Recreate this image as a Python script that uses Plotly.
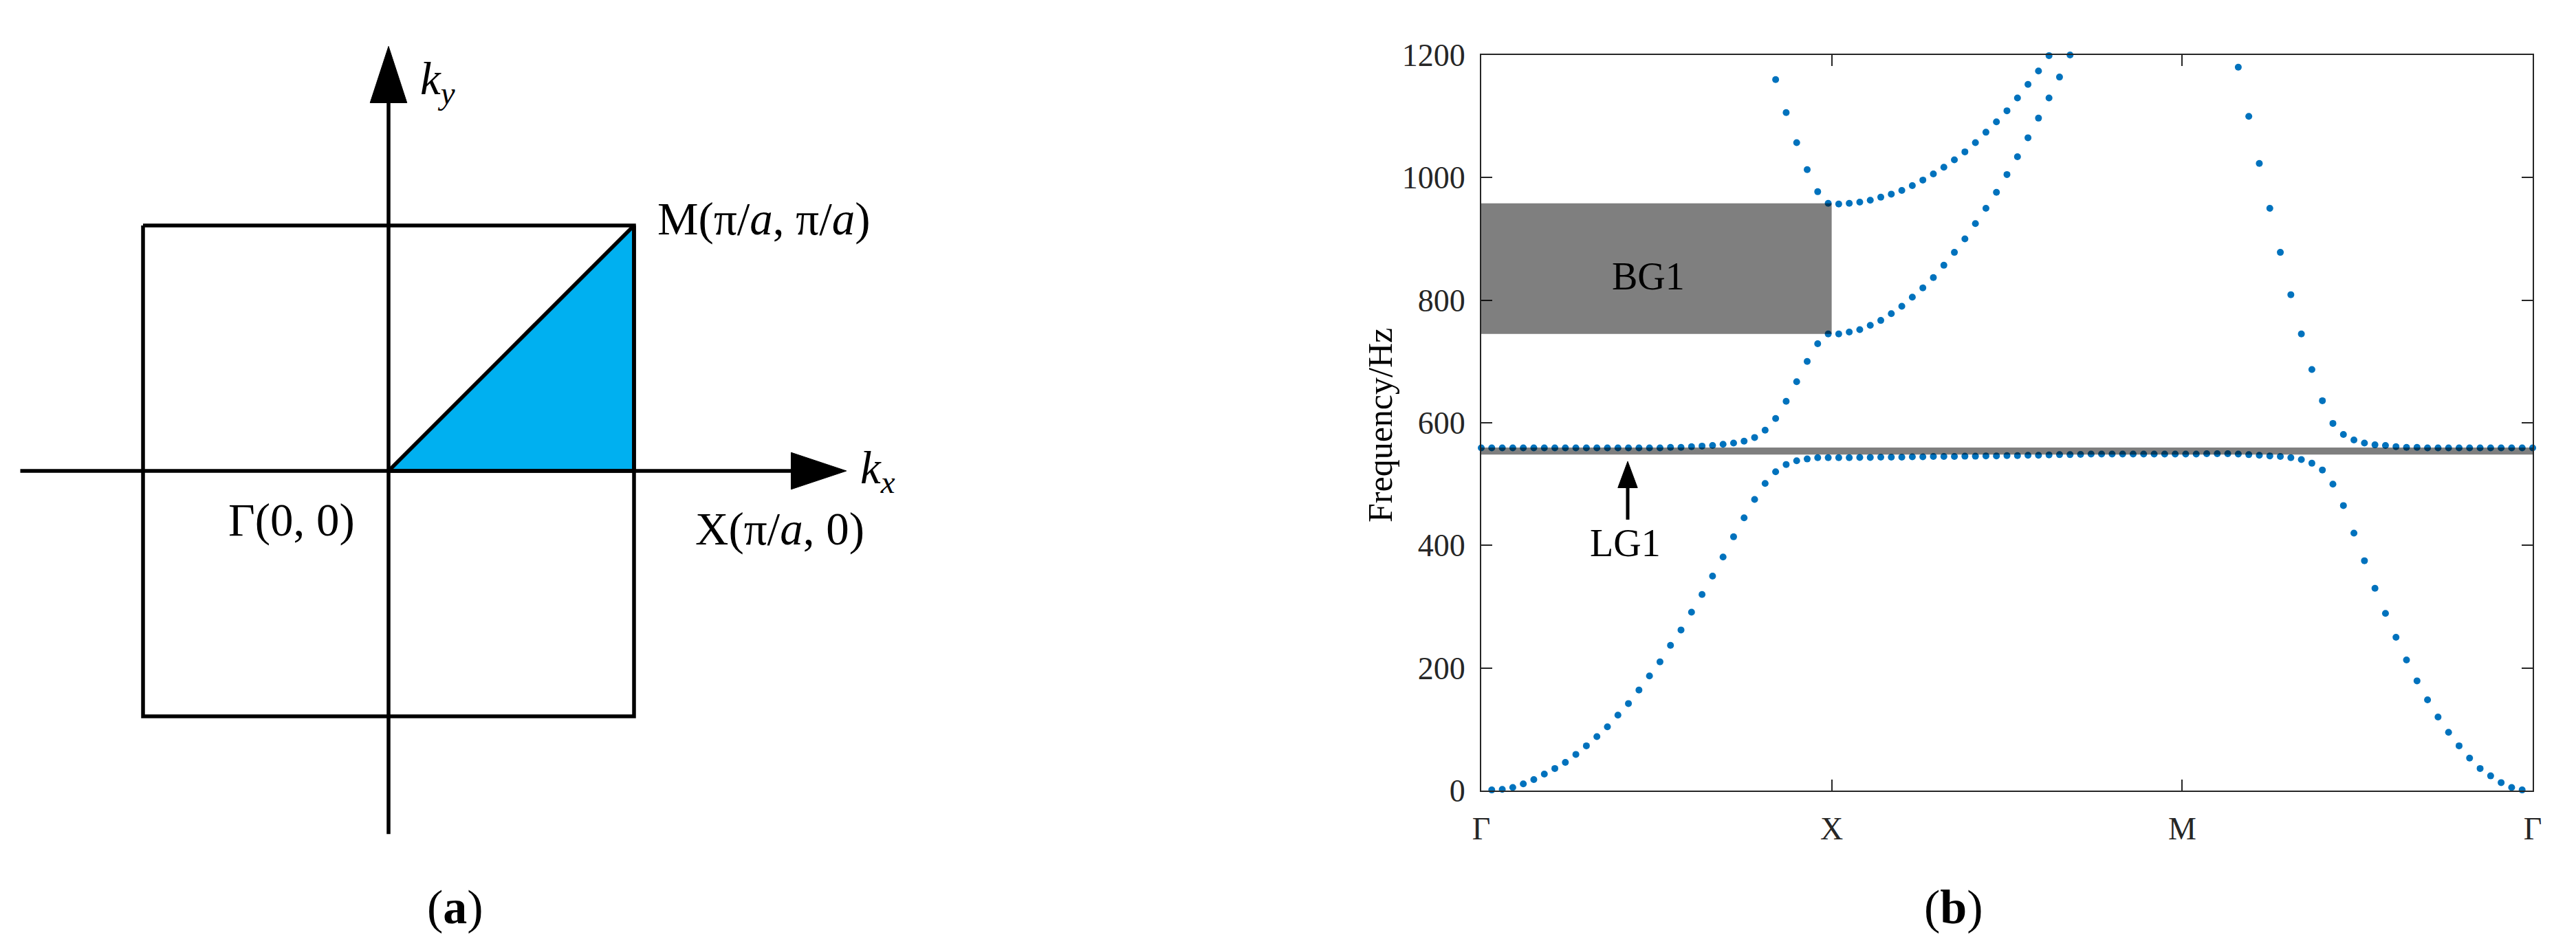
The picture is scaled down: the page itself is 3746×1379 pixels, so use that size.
import plotly.graph_objects as go

# ---------- panel (b): band structure ----------
band1_i = list(range(1, 100))
band1_f = [1, 2, 5, 11, 18, 27, 36, 46, 59, 73, 88, 104, 123, 142, 164, 187, 210, 237, 262, 291,
           320, 350, 381, 414, 445, 475, 501, 520, 532, 538, 541, 543, 543,
           543, 543, 543.5, 543.5, 544, 544, 544, 544.5, 544.5, 545, 545, 545, 545.5, 545.5, 546, 546,
           546.5, 546.5, 547, 547, 547.5, 548, 548, 548.5, 549, 549, 549, 549, 549, 549, 549, 549, 549, 549, 549,
           549.5, 549.5, 549.5,
           549, 548, 547, 546, 545, 543, 540, 534, 523, 500, 465, 420, 375, 330, 289, 250, 213, 179,
           148, 120, 95, 73, 53, 36, 24, 13, 5, 1]
band2_i = list(range(0, 57))
band2_f = [559, 559, 559, 559, 559, 559, 559, 559, 559, 559, 559, 559, 559, 559, 559, 559, 559, 559, 560, 560,
           561, 562, 563, 565, 567, 570, 576, 588, 607, 635, 667, 700, 729, 745,
           745, 748, 752, 759, 767, 778, 790, 805, 820, 837, 857, 878, 900, 925, 950, 976,
           1005, 1034, 1065, 1097, 1130, 1164, 1200]
band3_i = list(range(28, 55))
band3_f = [1160, 1106, 1057, 1013, 977, 958, 957, 958, 960, 963, 968, 973, 979, 987, 996, 1006, 1017, 1029,
           1042, 1057, 1074, 1091, 1109, 1130, 1152, 1174, 1199]
band4_i = list(range(72, 101))
band4_f = [1180, 1100, 1023, 950, 878, 809, 745, 687, 636, 599, 581, 572, 567, 564, 563, 561, 560, 560,
           559, 559, 559, 559, 559, 559, 559, 559, 559, 559, 559]
tick_i = [0, 33.33, 66.67, 100]
tick_labels = ["Γ", "X", "M", "Γ"]
y_ticks = [0, 200, 400, 600, 800, 1000, 1200]
bg1 = (745, 958)
lg1 = (548, 559.5)
BLUE = "#0072BD"
SHADE = "rgba(0,0,0,0.5)"
INK = "#262626"
SERIF = "Liberation Serif"

# ---------- panel (a): Brillouin zone, in units of pi/a ----------
square_x = [-1, 1, 1, -1, -1]
square_y = [1, 1, -1, -1, 1]
wedge_x = [0, 1, 1, 0]
wedge_y = [0, 1, 0, 0]
kx_x = [-1.5, 1.64]
kx_y = [0, 0]
ky_x = [0, 0]
ky_y = [-1.48, 1.5]
kx_head_x = [1.64, 1.865, 1.64, 1.64]
kx_head_y = [0.075, 0, -0.075, 0.075]
ky_head_x = [-0.075, 0, 0.075, -0.075]
ky_head_y = [1.5, 1.73, 1.5, 1.5]

W, H = 3746, 1379
LW = 5.5
fig = go.Figure()

# panel (a) traces
def a_trace(x, y, **kw):
    fig.add_trace(go.Scatter(x=x, y=y, xaxis="x2", yaxis="y2", showlegend=False, hoverinfo="skip",
                             cliponaxis=False, **kw))

a_trace(wedge_x, wedge_y, mode="lines", fill="toself", fillcolor="#00B0F0", line=dict(color="black", width=LW))
a_trace(square_x, square_y, mode="lines", line=dict(color="black", width=LW))
a_trace(kx_x, kx_y, mode="lines", line=dict(color="black", width=LW))
a_trace(ky_x, ky_y, mode="lines", line=dict(color="black", width=LW))
a_trace(kx_head_x, kx_head_y, mode="lines", fill="toself", fillcolor="black", line=dict(color="black", width=1))
a_trace(ky_head_x, ky_head_y, mode="lines", fill="toself", fillcolor="black", line=dict(color="black", width=1))

# panel (b) traces
for xs, ys in [(band1_i, band1_f), (band2_i, band2_f), (band3_i, band3_f), (band4_i, band4_f)]:
    fig.add_trace(go.Scatter(x=xs, y=ys, mode="markers", showlegend=False, cliponaxis=False,
                             marker=dict(color=BLUE, size=10, line=dict(width=0))))
# LG1 arrow
fig.add_trace(go.Scatter(x=[13.93, 13.93], y=[442, 500], mode="lines", showlegend=False,
                         line=dict(color="black", width=5)))
fig.add_trace(go.Scatter(x=[13.0, 13.93, 14.86, 13.0], y=[494, 537, 494, 494], mode="lines", fill="toself",
                         fillcolor="black", line=dict(color="black", width=1), showlegend=False))

shapes = [
    dict(type="rect", xref="x", yref="y", x0=tick_i[0], x1=tick_i[1], y0=bg1[0], y1=bg1[1],
         fillcolor=SHADE, line=dict(width=0), layer="above"),
    dict(type="rect", xref="x", yref="y", x0=tick_i[0], x1=tick_i[3], y0=lg1[0], y1=lg1[1],
         fillcolor=SHADE, line=dict(width=0), layer="above"),
]

def txt(x, y, s, size, xref="x2", yref="y2", **kw):
    return dict(x=x, y=y, xref=xref, yref=yref, text=s, showarrow=False,
                font=dict(family=SERIF, size=size, color="black"),
                xanchor="center", yanchor="middle", **kw)

annotations = [
    txt(1.53, 1.028, "M(π/<i>a</i>, π/<i>a</i>)", 67),
    txt(1.594, -0.238, "X(π/<i>a</i>, 0)", 67),
    txt(-0.395, -0.2, "Γ(0, 0)", 67),
    txt(1.994, 0, "<i>k<sub>x</sub></i>", 67),
    txt(0.2, 1.585, "<i>k<sub>y</sub></i>", 67),
    txt(662/W, 1-1319/H, "(<b>a</b>)", 70, xref="paper", yref="paper"),
    txt(2841/W, 1-1319/H, "(<b>b</b>)", 70, xref="paper", yref="paper"),
    txt(15.9, 839, "BG1", 56, xref="x", yref="y"),
    txt(13.67, 404, "LG1", 56, xref="x", yref="y"),
    txt(2007/W, 1-619/H, "Frequency/Hz", 50, xref="paper", yref="paper", textangle=-90),
]

# panel (a) axis ranges map pixels to pi/a units around the zone centre
cx, cy, half = 565, 685, 357
fig.update_layout(
    width=W, height=H, margin=dict(l=0, r=0, t=0, b=0, pad=0, autoexpand=False),
    paper_bgcolor="white", plot_bgcolor="white",
    shapes=shapes, annotations=annotations, showlegend=False,
    xaxis=dict(domain=[2154/W, 3683/W], range=[0, 100], tickmode="array", tickvals=tick_i, ticktext=tick_labels,
               ticks="inside", ticklen=16, tickwidth=2, tickcolor=INK, showline=True, linecolor=INK, linewidth=2,
               mirror="allticks", showgrid=False, zeroline=False, ticklabelstandoff=14,
               tickfont=dict(family=SERIF, size=46, color=INK)),
    yaxis=dict(domain=[1-1150/H, 1-80/H], range=[0, 1200], tickmode="array", tickvals=y_ticks,
               ticks="inside", ticklen=16, tickwidth=2, tickcolor=INK, showline=True, linecolor=INK, linewidth=2,
               mirror="allticks", showgrid=False, zeroline=False, ticklabelstandoff=12,
               tickfont=dict(family=SERIF, size=46, color=INK)),
    xaxis2=dict(domain=[0, 1400/W], range=[(0-cx)/half, (1400-cx)/half], visible=False),
    yaxis2=dict(domain=[0, 1], range=[(cy-H)/half, cy/half], visible=False),
)
fig.write_html("out.html", config=dict(displayModeBar=False),
               post_script="document.body.style.margin='0';document.body.style.overflow='hidden';")
